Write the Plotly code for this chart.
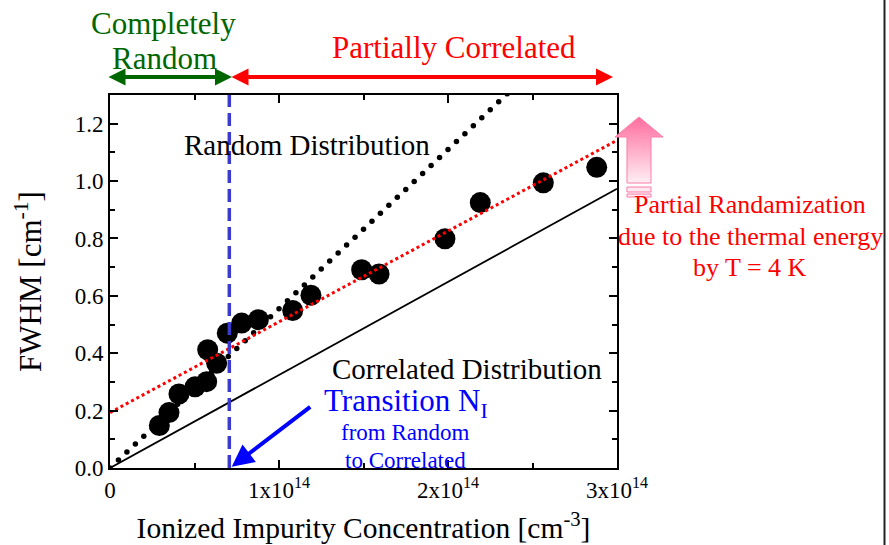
import numpy as np
import plotly.graph_objects as go

# ---- data ---------------------------------------------------------------
# FWHM of the measured lines versus ionized impurity concentration
conc = [0.292e14, 0.349e14, 0.408e14, 0.503e14, 0.572e14, 0.578e14, 0.631e14,
        0.694e14, 0.779e14, 0.878e14, 1.081e14, 1.189e14, 1.489e14, 1.592e14,
        1.982e14, 2.191e14, 2.564e14, 2.880e14]
fwhm = [0.148, 0.193, 0.258, 0.283, 0.301, 0.412, 0.365, 0.470, 0.505, 0.517,
        0.549, 0.602, 0.691, 0.676, 0.799, 0.925, 0.994, 1.048]

# model lines (end points)
random_x = [0.0, 2.35e14]          # random distribution
random_y = [0.0, 1.304]
random_step = 0.05e14              # spacing of the dots along the random line
correlated_x = [0.0, 3.0e14]       # correlated distribution
correlated_y = [0.0, 0.973]
fit_x = [0.0, 3.0e14]              # partially correlated fit
fit_y = [0.193, 1.142]
transition_N = 0.706e14            # transition concentration

x_tickvals = [0, 1e14, 2e14, 3e14]
x_ticktext = ["0", "1x10<sup>14</sup>", "2x10<sup>14</sup>", "3x10<sup>14</sup>"]

W, H = 889, 545
FONT = "Liberation Serif"

# plot box in pixels
L, R, T, B = 110, 617, 95, 468


def px(x):
    return x / W


def py(y):
    return 1 - y / H


fig = go.Figure()

# measured points
fig.add_trace(go.Scatter(
    x=conc, y=fwhm, mode="markers",
    marker=dict(size=21, color="black", line=dict(width=0)),
    showlegend=False))

# random distribution: round dots along the line
rx = np.arange(random_x[0], random_x[1] + 1, random_step)
ry = np.interp(rx, random_x, random_y)
fig.add_trace(go.Scatter(
    x=rx, y=ry, mode="markers",
    marker=dict(size=5.5, color="black"), showlegend=False))

# correlated distribution
fig.add_trace(go.Scatter(
    x=correlated_x, y=correlated_y, mode="lines",
    line=dict(color="black", width=1.8), showlegend=False))

# partially correlated fit
fig.add_trace(go.Scatter(
    x=fit_x, y=fit_y, mode="lines",
    line=dict(color="#ff0000", width=3, dash="dot"), showlegend=False))

# transition concentration
fig.add_trace(go.Scatter(
    x=[transition_N, transition_N], y=[0, 1.3], mode="lines",
    line=dict(color="#3a3acc", width=3.5, dash="13px,6px"), showlegend=False))

# pink "up" arrow drawn on a full-figure pixel subplot
arrow_px = [(639, 117), (663, 137), (651, 137), (651, 183),
            (627, 183), (627, 137), (615, 137), (639, 117)]
fig.add_trace(go.Scatter(
    x=[p[0] for p in arrow_px], y=[H - p[1] for p in arrow_px],
    xaxis="x2", yaxis="y2", mode="lines", fill="toself",
    fillgradient=dict(type="vertical",
                      colorscale=[[0, "#ffeef4"], [1, "#ff6d9e"]]),
    line=dict(color="#ff7aa8", width=1), showlegend=False, hoverinfo="skip"))

shapes = []
for (y0, y1) in [(187, 192), (194, 197)]:
    shapes.append(dict(type="rect", xref="x2", yref="y2",
                       x0=627, x1=651, y0=H - y1, y1=H - y0,
                       fillcolor="#ffe8f0", line=dict(color="#ff7aa8", width=1)))
# right border line
shapes.append(dict(type="line", xref="paper", yref="paper",
                   x0=px(884.5), x1=px(884.5), y0=0, y1=1,
                   line=dict(color="#222222", width=2)))

annotations = []


def label(text, x, y, size, color):
    annotations.append(dict(text=text, xref="paper", yref="paper",
                            x=px(x), y=py(y), xanchor="center", yanchor="middle",
                            showarrow=False,
                            font=dict(family=FONT, size=size, color=color)))


label("Completely", 163, 23, 31, "#006600")
label("Random", 164, 58, 31, "#006600")
label("Partially Correlated", 454, 47, 31, "#ff0000")
label("Random Distribution", 306.5, 145, 29, "black")
label("Correlated Distribution", 467, 369, 29, "black")
label("Transition N<sub>I</sub>", 406, 403, 31, "#0000ff")
label("from Random", 405, 432, 23, "#0000ff")
label("to Correlated", 405, 460, 23, "#0000ff")
label("Partial Randamization", 750, 204, 26, "#ff0000")
label("due to the thermal energy", 750, 236, 26, "#ff0000")
label("by T = 4 K", 750, 267, 26, "#ff0000")


def arrow(x_tip, y_tip, x_tail, y_tail, color, width, size, both=False):
    annotations.append(dict(
        text="", xref="paper", yref="paper", x=px(x_tip), y=py(y_tip),
        axref="pixel", ayref="pixel", ax=x_tail - x_tip, ay=y_tail - y_tip,
        showarrow=True, arrowhead=2, arrowsize=size, arrowwidth=width,
        arrowcolor=color, arrowside="end+start" if both else "end",
        startarrowhead=2, startarrowsize=size, standoff=0, startstandoff=0))


arrow(232, 77, 107, 77, "#006600", 4, 0.85, both=True)
arrow(613, 77, 230, 77, "#ff0000", 4, 0.85, both=True)
arrow(231.7, 466.7, 311.7, 405.7, "#0000ff", 4, 1.1)

axis_common = dict(
    showline=True, linecolor="black", linewidth=2, mirror="ticks",
    ticks="inside", ticklen=8, tickwidth=1.5, tickcolor="black",
    showgrid=False, zeroline=False, automargin=False,
    tickfont=dict(family=FONT, size=23, color="black"),
)

fig.update_layout(
    width=W, height=H,
    margin=dict(l=0, r=0, t=0, b=0),
    paper_bgcolor="white", plot_bgcolor="rgba(0,0,0,0)",
    xaxis=dict(
        domain=[px(L), px(R)], range=[0, 3e14],
        tickmode="array", tickvals=x_tickvals, ticktext=x_ticktext,
        minor=dict(dtick=0.5e14, tick0=0, ticks="inside", ticklen=5,
                   tickwidth=1.5, tickcolor="black"),
        title=dict(text="Ionized Impurity Concentration [cm<sup>-3</sup>]",
                   font=dict(family=FONT, size=29.5, color="black"), standoff=16),
        anchor="y",
        **axis_common),
    yaxis=dict(
        domain=[py(B), py(T)], range=[0, 1.3],
        tickmode="linear", tick0=0, dtick=0.2, tickformat=".1f",
        minor=dict(dtick=0.1, ticks="inside", ticklen=5,
                   tickwidth=1.5, tickcolor="black"),
        title=dict(text="FWHM [cm<sup>-1</sup>]",
                   font=dict(family=FONT, size=31, color="black"), standoff=24),
        anchor="x",
        **axis_common),
    xaxis2=dict(domain=[0, 1], range=[0, W], visible=False, anchor="y2",
                fixedrange=True),
    yaxis2=dict(domain=[0, 1], range=[0, H], visible=False, anchor="x2",
                fixedrange=True),
    shapes=shapes,
    annotations=annotations,
)

fig.write_html("out.html")
